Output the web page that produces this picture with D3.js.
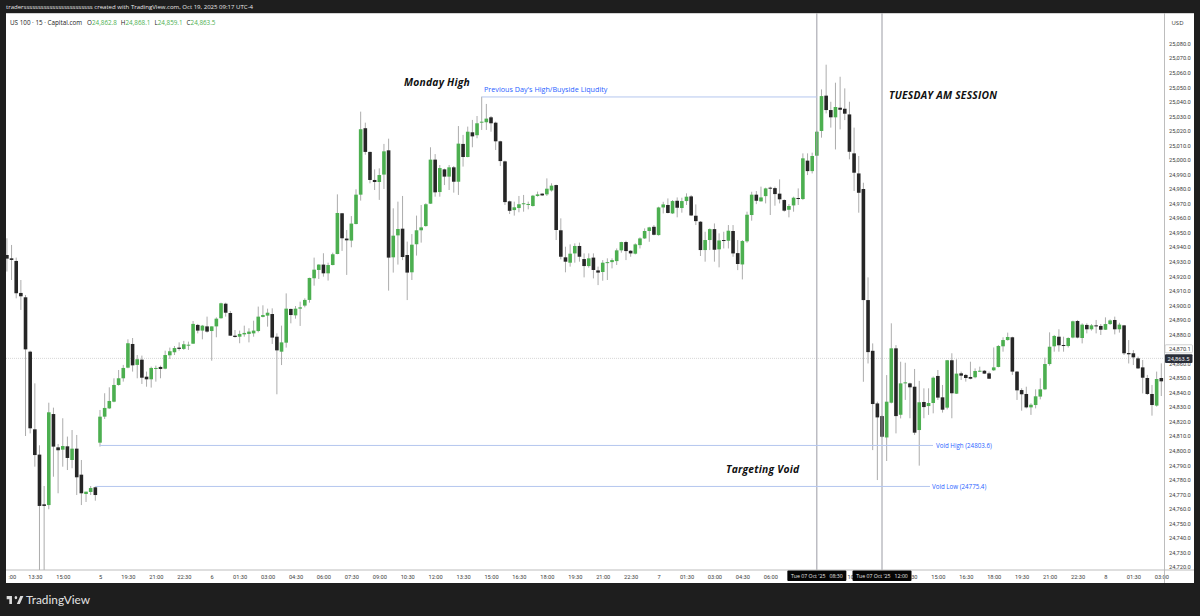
<!DOCTYPE html>
<html>
<head>
<meta charset="utf-8">
<script src="https://d3js.org/d3.v7.min.js"></script>
<style>
  html,body{margin:0;padding:0;background:#1e1e1e;overflow:hidden}
  text{font-family:"Open Sans",sans-serif}
  .axis text{font-family:Roboto,sans-serif;font-size:5.7px;fill:#3c3c3c}
  .axis path,.axis line{display:none}
  .note{font-size:10.3px;font-weight:700;font-style:italic;fill:#111;letter-spacing:.22px}
  .drawn{font-size:7.2px;fill:#2962ff}
  .drawn.small{font-size:6.2px}
</style>
</head>
<body>
<svg id="chart" width="1200" height="616"></svg>
<script>
'use strict';
// US 100, 15 min candles, one row per 10 candles
const opens=[
24934.6,24932.3,24930.5,24908.5,24905.5,24868.1,24814.7,24797.3,24763.1,24762.6,
24825.2,24802.3,24800.7,24803,24793.6,24801.4,24783.5,24770.2,24771.6,24774.8,
24805.5,24823.4,24829.1,24833.7,24845.2,24849.8,24857.1,24873.4,24859,24862.6,
24850.9,24849.1,24856.2,24857.6,24856.4,24865.6,24867.7,24870.9,24870,24872.5,
24873.6,24886.5,24882.6,24885.5,24882.3,24885.5,24891.1,24901.1,24894.7,24879.1,
24878.4,24880,24880.3,24880.7,24882.3,24892,24892.9,24894,24878.4,24868.1,
24874.3,24897.5,24893.1,24897.7,24899.8,24903.7,24918.6,24924.3,24928,24922,
24927.7,24935.3,24963.3,24945.9,24944.5,24955.9,24976.1,25021.8,25005.5,24986.2,
24984.8,24989.9,25006.6,24933,24948.1,24952.7,24934.6,24922.7,24942,24951.6,
24954.5,24969.9,25000.2,24977.9,24993.5,24988.5,24994.9,24985,25011,25002,
25019,25017,25025.9,25025.9,25029.3,25025.6,25012.8,24999,24971.5,24965.5,
24966.9,24969.5,24969.2,24968.3,24975.2,24976.8,24976.3,24979,24982.7,24951.6,
24933,24929.3,24935.7,24940.8,24931.8,24927,24932.8,24924,24922.9,24929.3,
24929.7,24930.4,24937.8,24943.5,24937.5,24935.5,24941.4,24946,24951.1,24954,
24948.3,24967.3,24969,24963.2,24971.9,24966.9,24971.7,24974.9,24961.6,24957.5,
24938,24944.9,24952.4,24938.5,24944.9,24944.4,24951.1,24935.9,24928.1,24944,
24962.1,24976.1,24971.5,24975.1,24980.9,24980.6,24976.8,24972.4,24965.7,24968.7,
24973.8,24973.1,24999.5,24992.3,25002.9,25019.9,25044.2,25034.3,25029.3,25035.9,
25035.2,25031.3,25004.5,24990.7,24980,24903.6,24868.7,24832.5,24823.8,24809.1,
24833,24870.4,24824.7,24846.3,24846.3,24844,24814.2,24833.5,24830.7,24832.8,
24851.4,24836.7,24829.6,24862.2,24839.2,24853.2,24852.1,24850.7,24850.5,24854.6,
24855,24853.2,24855.3,24857.6,24871.8,24876.1,24878,24854.4,24841.7,24839,
24829.8,24831.4,24837.2,24842.2,24859.6,24871.8,24878.4,24872.7,24872,24877.8,
24889.2,24877.5,24886.5,24883.5,24886.2,24885.8,24883.2,24887.1,24889.9,24883.5,
24886.2,24867.2,24867,24863.5,24857.3,24850,24839,24831,24850];
const highs=[
24946.1,24941.5,24932.8,24917.4,24907.1,24868.8,24846.3,24803.7,24775.7,24833,
24829.6,24804.6,24822.3,24809.7,24814.2,24810.8,24793.6,24771.8,24775.7,24775.3,
24828,24839.5,24843.6,24849.8,24855.5,24859,24876.6,24877.5,24865.8,24865.4,
24854.4,24857.8,24858.5,24858.5,24868.8,24870.9,24872,24874.5,24875.5,24875,
24889.2,24887.2,24886.5,24892.2,24885.5,24891.7,24901.8,24901.8,24896.1,24883,
24882.6,24886,24884.2,24889.4,24899.1,24900,24897.7,24897.9,24880.7,24886,
24908.2,24897.7,24899.5,24902.5,24904.8,24919,24932.8,24928.2,24935.8,24929.3,
24936.2,24976.3,24963.5,24951.8,24961.4,24979.8,25033.2,25025.6,25005.7,24993.5,
24994.2,25011,25014.6,24966.7,24971.3,24975.2,24943.8,24949,24961.7,24969,
24970.2,25008.7,25004,24996.5,24994,24996.5,24995.8,25023.3,25017.2,25022.9,
25027.5,25030.2,25043.5,25038.5,25030.2,25026.3,25013.2,24999.5,24972,24971.3,
24975.2,24975.9,24971.3,24975.9,24978.2,24977,24987.3,24983.9,24983,24959.8,
24940.3,24941.9,24942.6,24943.1,24935.7,24935.7,24935.7,24926.6,24931.1,24932.3,
24932.3,24939.1,24943.7,24944.4,24938,24942.6,24946.7,24952.9,24954,24955.2,
24967.8,24971.2,24973.5,24972.4,24974.2,24974,24977,24975.8,24969.4,24957.9,
24950.6,24952.9,24956.3,24949.5,24950.6,24955.2,24955.2,24944.9,24944.9,24964.4,
24978.1,24978.6,24981.6,24980.9,24981.6,24981.6,24986.6,24972.9,24969.6,24974.7,
24980.4,25004.5,25004.5,25005,25020.1,25048.5,25065.5,25040,25053.1,25057.2,
25049.2,25040,25022.2,25002.7,24984.3,24919.2,24873.8,24833.7,24824.3,24852,
24887.6,24872.6,24861.2,24860.5,24846.8,24856.2,24848,24842.9,24842.9,24851,
24855.5,24845.2,24862.4,24867,24862.9,24854.4,24852.8,24861.2,24856.6,24857.8,
24855.5,24854.4,24871,24872.7,24878,24881.2,24878.4,24854.8,24842.9,24844,
24832.6,24842.2,24849.8,24864,24881.4,24879.6,24883.5,24878.4,24878,24889.4,
24889.9,24887.6,24887.6,24887.1,24889.9,24887.1,24891.7,24890.3,24892.2,24888,
24886.5,24876.1,24869.2,24864.7,24862.4,24852.1,24845.2,24854.4,24860.1];
const lows=[
24923.2,24917.4,24904.8,24896.8,24810.1,24811.9,24789,24715,24715,24759.7,
24782.1,24770.7,24789,24786.7,24787.9,24769.5,24762.6,24764.7,24769.5,24765.6,
24802.8,24821.8,24828.7,24833.3,24844.7,24847.5,24856.7,24854.4,24849.8,24845.9,
24844,24843.4,24847.5,24849.8,24856,24863.1,24865.8,24868.8,24869.3,24869.3,
24873.4,24880.7,24876.6,24881.2,24861.9,24878,24890.8,24892.2,24878.9,24877.8,
24873.9,24878.4,24874.5,24878.4,24881.4,24891.7,24885.3,24873.4,24838.8,24858.9,
24870.9,24887.6,24890.8,24885.8,24898.6,24901.8,24913.5,24918.1,24919.7,24917,
24927.5,24935.1,24937.4,24920.9,24939.9,24955.7,24972,25003.6,24983.9,24979.3,
24972.5,24980,24910.1,24922.5,24928,24931.1,24903.6,24917.4,24934.2,24943.1,
24954.1,24969.7,24974.7,24974.7,24982.7,24979.3,24977.5,24975.9,24995.4,25001.8,
25008.7,25014.9,25020.6,25020.6,25019.4,25006.8,24995.8,24969,24962.8,24961.7,
24964,24964.4,24966,24967.9,24974.7,24975.2,24975.2,24978.2,24944.9,24931.6,
24922.7,24926.6,24929.3,24930,24919.2,24925.9,24918.5,24913.9,24916.9,24917.4,
24925.4,24927.7,24936.2,24931.1,24933.4,24935,24939.1,24945.6,24943.7,24948.1,
24947.9,24963.2,24963.2,24962.8,24960.5,24963.7,24969,24961.4,24955.2,24933.9,
24930,24938,24930,24926.1,24939.1,24939.1,24933.4,24924.2,24917.8,24943,
24958.2,24969.6,24971.3,24970.1,24962.1,24968.5,24970.1,24964.4,24960.5,24964.4,
24969,24972.4,24989.6,24990.7,25002.7,25015.3,25032,25022.2,25007.2,25021,
25027.4,25000.4,24978.6,24963.7,24847.4,24860,24800.4,24779.8,24809.1,24792.9,
24832.5,24811.9,24822.2,24834.9,24822.3,24810.8,24789.7,24822.3,24824.6,24825.7,
24834.9,24826.2,24828.4,24822.3,24839,24848.6,24847.5,24849.1,24849.8,24854.1,
24852.7,24849.3,24854.8,24857.3,24868.1,24875.7,24852.1,24834.9,24827.5,24829.1,
24824.6,24829.1,24835.3,24841.7,24858.5,24868.1,24868.1,24868.1,24871,24877.3,
24877.3,24873.8,24880.7,24882.6,24880.7,24879.6,24883,24886.5,24880,24881.2,
24865.8,24860,24858.9,24856.2,24839.4,24838.3,24824.1,24830.3,24837.6];
const closes=[
24932.1,24931.2,24908.3,24906.2,24869.7,24815.4,24797,24762,24762,24826.4,
24802.8,24800.3,24803.2,24795,24801.4,24781.7,24770.7,24771.8,24774.3,24769.5,
24823.4,24829.4,24834.2,24845.2,24849.8,24856.9,24873.9,24858.7,24862.9,24850.2,
24849.1,24856.9,24856.9,24856.2,24865.8,24868.4,24870.6,24870,24873.2,24872.9,
24887.2,24882.6,24886,24881.9,24885.5,24890.8,24901.4,24894.9,24879.1,24878.2,
24880.3,24881,24881.9,24882.6,24892.2,24893.3,24894.9,24877.8,24869,24874.5,
24897.7,24893.3,24897.7,24898.6,24903.7,24918.8,24924.5,24928,24922,24927.7,
24935.1,24963.5,24946.1,24944.7,24956.2,24976.1,25021.1,25005.5,24986.2,24984.8,
24989.6,25005.9,24932.8,24947.9,24952.5,24933.2,24922.5,24941.7,24951.6,24953.6,
24969.5,25000.2,24977.7,24994.4,24988.5,24994.9,24985,25011.2,25002,25019.4,
25016.2,25025.2,25026.3,25028.4,25025.2,25012.8,24999.2,24971,24965,24967.4,
24969.5,24970.2,24969.7,24975.4,24976.3,24975.6,24980.2,24982.3,24951.8,24933.4,
24930,24935.5,24940.8,24933.4,24927,24932.3,24924.3,24922.5,24929.3,24929.7,
24931.1,24937.8,24943.5,24937.3,24935.7,24941.9,24946,24951.1,24953.6,24948.5,
24967.3,24969.4,24963.5,24971.7,24967.1,24971.7,24974.7,24961.8,24957.9,24938,
24944.9,24952.4,24938.2,24944.6,24944.4,24951.3,24935.7,24928.4,24944.2,24962.3,
24976.1,24971.9,24974.2,24980.4,24980.4,24976.5,24972.9,24965.1,24968.3,24974,
24973.3,25001.1,24992.3,25002.7,25019.4,25043.9,25034.3,25029.3,25036.4,25034.5,
25031.8,25005.6,24991.2,24977.4,24903.6,24867.8,24832.1,24822.9,24809.6,24833.7,
24870.4,24823.8,24846.3,24847,24843.6,24812.4,24833.3,24830,24832.8,24850.2,
24836.5,24828.2,24862.2,24839.5,24853,24851.6,24850,24849.5,24854.8,24855,
24853,24849.5,24857.3,24872,24876.1,24878.2,24854.4,24841.5,24838.8,24829.8,
24831.6,24837.4,24842.2,24859.6,24871.5,24878.9,24872.5,24872,24877.5,24889,
24877.8,24886.7,24883.5,24886.2,24885.5,24883.2,24887.1,24889.6,24883.5,24886.7,
24867,24866.3,24864.2,24856.6,24850.2,24839,24831.4,24849.3,24847.7];

// time axis: candle index of every label
const timeTicks=[0,6,12,20,26,32,38,44,50,56,62,68,74,80,86,92,98,104,110,116,122,128,134,140,146,152,158,164,182,194,200,206,212,218,224,230,236,242,248];
const timeLabels=['12:00','13:30','15:00','5','19:30','21:00','22:30','6','01:30','03:00','04:30','06:00','07:30','09:00','10:30','12:00','13:30','15:00','16:30','18:00','19:30','21:00','22:30','7','01:30','03:00','04:30','06:00','10:30','13:30','15:00','16:30','18:00','19:30','21:00','22:30','8','01:30','03:00'];
const priceTicks=d3.range(24720,25081,10);
const sessionMarks=[174,188];
const sessionLabels=["Tue 07 Oct '25   08:30","Tue 07 Oct '25   12:00"];
const lastPrice=24863.5, markedPrice=24870.1;
const prevHigh=25043.3, voidHigh=24803.6, voidLow=24775.4;

const panel={left:6,top:13,right:1194,bottom:583}, plot={right:1164.5,bottom:570};
const GREEN='#4caf50', DARK='#262626', WICK='#a3a3a3', BLUE='#b4c6ee';

const x=d3.scaleLinear().domain([0,248]).range([6.9,1161.3]);
const y=d3.scaleLinear().domain([24900,24770]).range([305.3,494.3]);
const candles=opens.map((o,i)=>({i,o,h:highs[i],l:lows[i],c:closes[i]}));

const svg=d3.select('#chart');
svg.append('rect').attr('x',panel.left).attr('y',panel.top)
  .attr('width',panel.right-panel.left).attr('height',panel.bottom-panel.top).attr('fill','#fff');
svg.append('defs').append('clipPath').attr('id','plot').append('rect')
  .attr('x',panel.left).attr('y',panel.top)
  .attr('width',plot.right-panel.left).attr('height',plot.bottom-panel.top);

// header, legend
svg.append('text').attr('x',6).attr('y',8.6).attr('fill','#e8e8e8').style('font-size','6.05px')
  .text('traderssssssssssssssssssssssss created with TradingView.com, Oct 19, 2025 09:17 UTC-4');
const legend=svg.append('text').attr('x',10).attr('y',24.5).style('font-size','6.3px').attr('fill','#222');
legend.append('tspan').text('US 100 · 15 · Capital.com');
[['O','24,862.8'],['H','24,868.1'],['L','24,859.1'],['C','24,863.5']].forEach(([k,v],n)=>{
  legend.append('tspan').attr('dx',n?4:5).text(k);
  legend.append('tspan').attr('fill',GREEN).text(v);
});

const g=svg.append('g').attr('clip-path','url(#plot)');

// last price dotted line
g.append('line').attr('x1',panel.left).attr('x2',plot.right).attr('y1',y(lastPrice)).attr('y2',y(lastPrice))
  .attr('stroke','#c4c4c4').attr('stroke-width',.7).attr('stroke-dasharray','1 1');

// candles
g.selectAll('.wick').data(candles).join('line').attr('class','wick')
  .attr('x1',d=>x(d.i)).attr('x2',d=>x(d.i)).attr('y1',d=>y(d.h)).attr('y2',d=>y(d.l))
  .attr('stroke',WICK).attr('stroke-width',.9);
g.selectAll('.body').data(candles).join('rect').attr('class','body')
  .attr('x',d=>x(d.i)-1.8).attr('width',3.6)
  .attr('y',d=>y(Math.max(d.o,d.c)))
  .attr('height',d=>Math.max(1,Math.abs(y(d.o)-y(d.c))))
  .attr('fill',d=>d.c>=d.o?GREEN:DARK);

// session verticals
g.selectAll('.sess').data(sessionMarks).join('line').attr('class','sess')
  .attr('x1',d=>x(d)).attr('x2',d=>x(d)).attr('y1',panel.top).attr('y2',plot.bottom)
  .attr('stroke','#9b9ca4').attr('stroke-width',1);

// level lines
function level(from,to,price){
  g.append('line').attr('x1',from).attr('x2',to).attr('y1',y(price)).attr('y2',y(price))
    .attr('stroke',BLUE).attr('stroke-width',1);
}
level(x(102),x(174),prevHigh);
level(x(20),933,voidHigh);
level(x(19),930,voidLow);
svg.append('text').attr('class','drawn').attr('x',484).attr('y',y(prevHigh)-4.5).text("Previous Day's High/Buyside Liqudity");
svg.append('text').attr('class','drawn small').attr('x',936).attr('y',y(voidHigh)+2.3).text('Void High (24803.6)');
svg.append('text').attr('class','drawn small').attr('x',932).attr('y',y(voidLow)+2.3).text('Void Low (24775.4)');

svg.append('text').attr('class','note').attr('x',404).attr('y',86).text('Monday High');
svg.append('text').attr('class','note').attr('x',889).attr('y',99).text('TUESDAY AM SESSION');
svg.append('text').attr('class','note').attr('x',726).attr('y',473).text('Targeting Void');

// tag behind the marked price goes under the axis so its label stays on top
svg.append('rect').attr('x',plot.right+.5).attr('y',y(markedPrice)-4).attr('width',27.5).attr('height',8).attr('rx',1)
  .attr('fill','#fff').attr('stroke','#bdbdbd').attr('stroke-width',.7);

// axes
const xAxis=d3.axisBottom(x).tickValues(timeTicks).tickSize(0).tickPadding(4.5)
  .tickFormat(d=>timeLabels[timeTicks.indexOf(d)]);
const xg=svg.append('g').attr('class','axis').attr('transform',`translate(0,${plot.bottom})`).call(xAxis);
xg.selectAll('.tick').filter(d=>d===0).select('text').attr('text-anchor','start').attr('dx',1).text(':00');

// the 24,870 tick shows the marked price instead
const yAxis=d3.axisRight(y).tickValues(priceTicks).tickSize(0).tickPadding(4.5)
  .tickFormat(d=>d3.format(',.1f')(d===24870?markedPrice:d));
svg.append('g').attr('class','axis').attr('transform',`translate(${plot.right},0)`).call(yAxis);

svg.append('line').attr('x1',panel.left).attr('x2',panel.right).attr('y1',plot.bottom).attr('y2',plot.bottom)
  .attr('stroke','#b5b5b5').attr('stroke-width',.9);
svg.append('line').attr('x1',plot.right).attr('x2',plot.right).attr('y1',panel.top).attr('y2',panel.bottom)
  .attr('stroke','#b5b5b5').attr('stroke-width',.9);
svg.append('line').attr('x1',panel.left).attr('x2',panel.right).attr('y1',panel.top+.5).attr('y2',panel.top+.5)
  .attr('stroke','#b5b5b5').attr('stroke-width',.6);
svg.append('text').attr('x',1177.5).attr('y',25).attr('text-anchor','middle').style('font-size','6px').attr('fill','#333').text('USD');

// last price tag
svg.append('rect').attr('x',plot.right+.5).attr('y',y(lastPrice)-4).attr('width',27.5).attr('height',8.6).attr('rx',1).attr('fill','#2a2e39');
svg.append('text').attr('x',1178.5).attr('y',y(lastPrice)+2.4).attr('text-anchor','middle')
  .style('font-family','Roboto,sans-serif').style('font-size','5.7px').attr('fill','#f0f0f0').text('24,863.5');

// crosshair date boxes
sessionMarks.forEach((m,n)=>{
  svg.append('rect').attr('x',x(m)-29.5).attr('y',plot.bottom+.5).attr('width',59).attr('height',10.5).attr('rx',1).attr('fill','#050505');
  svg.append('text').attr('x',x(m)).attr('y',plot.bottom+7.8).attr('text-anchor','middle')
    .style('font-size','5.2px').style('white-space','pre').attr('fill','#e8e8e8').text(sessionLabels[n]);
});

// footer logo
svg.append('path').attr('transform','translate(5.8,592.8) scale(.44,.53)').attr('fill','#dcdcdc')
  .attr('d','M14 6H2v6h6v9h6V6Zm18 15h-7l8-15h7l-8 15Zm-9-9a3 3 0 1 0 0-6 3 3 0 0 0 0 6Z');
svg.append('text').attr('x',26).attr('y',604).attr('fill','#dcdcdc')
  .style('font-family','Lato,sans-serif').style('font-size','11.8px').style('font-weight','500').text('TradingView');
</script>
</body>
</html>
